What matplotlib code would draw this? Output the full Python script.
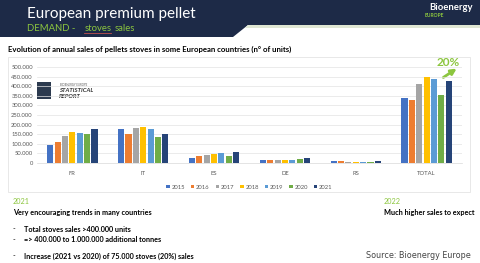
import matplotlib.pyplot as plt
import numpy as np
from matplotlib.patches import Polygon, Rectangle, FancyArrowPatch
from matplotlib.ticker import FuncFormatter

plt.rcParams["font.family"] = ["Lato", "DejaVu Sans"]

countries = ["FR", "IT", "ES", "DE", "RS", "TOTAL"]
years = ["2015", "2016", "2017", "2018", "2019", "2020", "2021"]
colors = ["#4472C4", "#ED7D31", "#A5A5A5", "#FFC000", "#5B9BD5", "#70AD47", "#264478"]

# units sold, per year, for FR, IT, ES, DE, RS, TOTAL
sales = {
    "2015": [96000, 178000, 28000, 17000, 12000, 341000],
    "2016": [107000, 150000, 35000, 17000, 12000, 327000],
    "2017": [142000, 184000, 44000, 17000, 4000, 414000],
    "2018": [163000, 187000, 49000, 18000, 4000, 446000],
    "2019": [157000, 175000, 54000, 18000, 6000, 439000],
    "2020": [149000, 135000, 35000, 20000, 7000, 355000],
    "2021": [178000, 152000, 59000, 24000, 8000, 428000],
}

W, H = 480, 263
fig = plt.figure(figsize=(W / 100, H / 100), dpi=100)

# background layer in pixel coordinates
bg = fig.add_axes([0, 0, 1, 1])
bg.set_xlim(0, W)
bg.set_ylim(H, 0)
bg.axis("off")

navy = "#1d2a47"
green = "#8cc63f"
bg.add_patch(Polygon([(0, 0), (W, 0), (W, 25), (248, 25), (233, 37), (0, 37)],
                     closed=True, color=navy, lw=0))
bg.add_patch(Polygon([(248, 25), (W, 25), (W, 28), (245, 28)], closed=True,
                     color="#dfe6d3", lw=0))
bg.text(27, 14, "European premium pellet", color="white", fontsize=11,
        va="center", ha="left")

# subtitle with underlined "stoves"
renderer = fig.canvas.get_renderer()
t1 = bg.text(27, 28.5, "DEMAND -", color=green, fontsize=6.8, va="center", ha="left")
ext = t1.get_window_extent(renderer)
x_st = ext.x1 + 9
t2 = bg.text(x_st, 28.5, "stoves", color=green, fontsize=6.8, va="center", ha="left")
ext2 = t2.get_window_extent(renderer)
bg.plot([x_st, ext2.x1], [32.5, 32.5], color="#c0504d", lw=0.6)
bg.text(ext2.x1 + 3, 28.5, "sales", color=green, fontsize=6.8, va="center", ha="left")

bg.text(473, 7.5, "Bioenergy", color="white", fontsize=6.8, fontweight="bold",
        va="center", ha="right")
bg.text(425, 15.5, "EUROPE", color=green, fontsize=3.6, fontweight="bold",
        va="center", ha="left")

bg.text(8, 49, "Evolution of annual sales of pellets stoves in some European countries (n° of units)",
        fontsize=5.6, fontweight="bold", va="center", ha="left", color="black")

# chart frame
bg.add_patch(Rectangle((8, 57), 462, 135, fill=False, ec="#e4e4e4", lw=0.6))

# statistical report badge
bg.add_patch(Rectangle((37, 82), 14, 17, color="#2c3a4f", lw=0))
bg.text(60, 85, "BIOENERGY EUROPE", fontsize=2, color="#555555", va="center", ha="left")
bg.text(59, 90.5, "STATISTICAL", fontsize=4.3, color="#333333", fontweight="bold",
        fontstyle="italic", va="center", ha="left")
bg.text(59, 96, "REPORT", fontsize=4.3, color="#333333", fontweight="bold",
        fontstyle="italic", va="center", ha="left")

# bottom texts
bg.text(13, 202, "2021", color=green, fontsize=5.2, va="center", ha="left")
bg.text(13, 212.5, "Very encouraging trends in many countries", fontsize=5.2,
        fontweight="bold", va="center", ha="left")
bg.text(13, 229, "-", fontsize=5.2, va="center", ha="left")
bg.text(24, 229, "Total stoves sales >400.000 units", fontsize=5.2,
        fontweight="bold", va="center", ha="left")
bg.text(13, 239.5, "-", fontsize=5.2, va="center", ha="left")
bg.text(24, 239.5, "=> 400.000 to 1.000.000 additional tonnes", fontsize=5.2,
        fontweight="bold", va="center", ha="left")
bg.text(13, 256, "-", fontsize=5.2, va="center", ha="left")
bg.text(24, 256, "Increase (2021 vs 2020) of 75.000 stoves (20%) sales", fontsize=5.2,
        fontweight="bold", va="center", ha="left")
bg.text(384, 202, "2022", color=green, fontsize=5.2, va="center", ha="left")
bg.text(384, 212.5, "Much higher sales to expect", fontsize=5.2,
        fontweight="bold", va="center", ha="left")
bg.text(471, 255, "Source: Bioenergy Europe", fontsize=5.8, color="#444444",
        va="center", ha="right", family=["DejaVu Sans"])

# chart
ax = fig.add_axes([37 / W, 1 - 163 / H, 425 / W, 96 / H])
x = np.arange(len(countries))
step = 0.104
width = 0.086
for i, yr in enumerate(years):
    ax.bar(x + (i - 3) * step, sales[yr], width, color=colors[i], label=yr, zorder=3)

ax.set_xlim(-0.5, len(countries) - 0.5)
ax.set_ylim(0, 500000)
ax.set_yticks(np.arange(0, 500001, 50000))
ax.yaxis.set_major_formatter(FuncFormatter(
    lambda v, p: "0" if v == 0 else f"{int(v):,}".replace(",", ".")))
ax.set_xticks(x)
ax.set_xticklabels(countries)
ax.tick_params(axis="both", length=0, labelsize=4.2, colors="#595959", pad=3)
ax.tick_params(axis="x", pad=6)
ax.grid(axis="y", color="#e3e3e3", lw=0.5, zorder=0)
for s in ["top", "right", "left"]:
    ax.spines[s].set_visible(False)
ax.spines["bottom"].set_color("#d9d9d9")
ax.spines["bottom"].set_linewidth(0.5)
ax.patch.set_alpha(0)

leg = ax.legend(loc="upper center", bbox_to_anchor=(0.5, -0.17), ncol=7,
                fontsize=4.2, frameon=False, handlelength=0.6, handleheight=0.6,
                handletextpad=0.3, columnspacing=1.0)
for t in leg.get_texts():
    t.set_color("#595959")

# 20% annotation
bg.text(448, 62, "20%", color=green, fontsize=8.5, fontweight="bold",
        va="center", ha="center")
bg.add_patch(FancyArrowPatch((441, 79), (459, 67), arrowstyle="-|>",
                             mutation_scale=8, color=green, lw=2))

fig.savefig("out.png", dpi=100)
